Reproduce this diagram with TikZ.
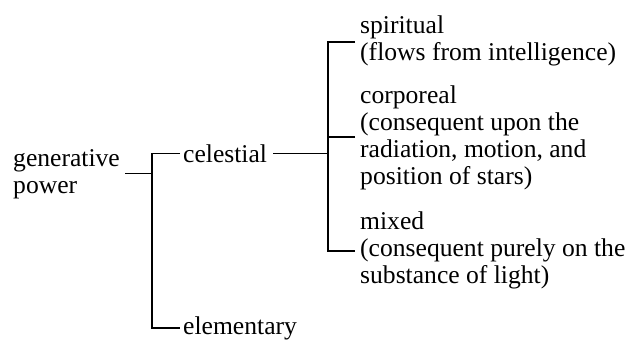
\documentclass[tikz,border=0pt]{standalone}
\usepackage{fontspec}
\setmainfont{Liberation Serif}
\begin{document}
\begin{tikzpicture}[x=1pt,y=-1pt,
  lbl/.style={inner sep=0pt, anchor=base west, align=left,
              font=\fontsize{25.6}{27}\selectfont},
  br/.style={line width=1.4pt, black}]
\useasboundingbox (0,0) rectangle (632,340);

% texts (base anchor = baseline of the last line)
\node[lbl] (gen) at (13,193) {generative\\power};
\node[lbl] (cel) at (183,162) {celestial};
\node[lbl] (ele) at (183,334) {elementary};
\node[lbl] (spi) at (360,60) {spiritual\\(flows from intelligence)};
\node[lbl] (cor) at (360,184) {corporeal\\(consequent upon the\\radiation, motion, and\\position of stars)};
\node[lbl] (mix) at (360,283) {mixed\\(consequent purely on the\\substance of light)};

% bracket x-positions and branch levels
\coordinate (lx) at (152,0);
\coordinate (rx) at (328,0);
\coordinate (rtop) at (355,42);
\coordinate (rmid) at (355,137);
\coordinate (rbot) at (355,251);

% first bracket
\draw[br] ([xshift=5pt]gen.east) -- (gen.east -| lx);
\draw[br] ([xshift=-3pt]cel.west) -- (cel.west -| lx) -- (ele.west -| lx) -- ([xshift=-3pt]ele.west);

% second bracket
\draw[br] ([xshift=6pt]cel.east) -- (cel.east -| rx);
\draw[br] (rtop) -- (rtop -| rx) -- (rbot -| rx) -- (rbot);
\draw[br] (rmid) -- (rmid -| rx);
\end{tikzpicture}
\end{document}
